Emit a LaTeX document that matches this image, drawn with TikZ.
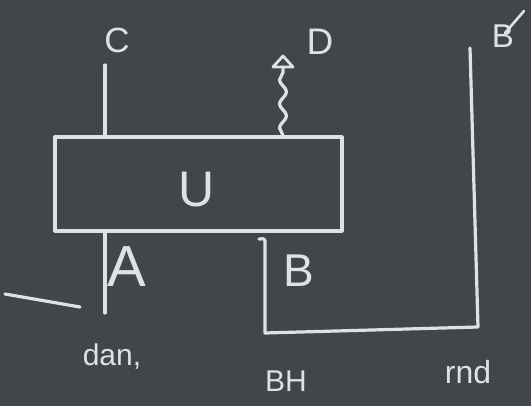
\documentclass[tikz,border=0pt]{standalone}
\usepackage{fontspec}
\setmainfont{Liberation Sans}
\usetikzlibrary{arrows.meta,decorations.pathmorphing}
\definecolor{board}{RGB}{66,69,73}
\definecolor{chalk}{RGB}{222,226,228}
\tikzset{
  chalkline/.style={draw=chalk, line width=3.2pt, line cap=round, line join=round},
  lbl/.style={text=chalk, inner sep=0pt, anchor=center},
}
\begin{document}
\begin{tikzpicture}[x=1pt,y=-1pt]
\useasboundingbox (0,0) rectangle (531,406);
\fill[board] (0,0) rectangle (531,406);

% main box
\node[chalkline, rectangle, minimum width=287pt, minimum height=94pt, inner sep=0pt] (U) at (198.5,184) {};
\node[lbl, font=\fontsize{50}{50}\selectfont] (Ulbl) at (197,190) {U};

% C
\node[lbl, font=\fontsize{35}{35}\selectfont] (C) at (117,40) {C};
\coordinate (cTop) at (105,65);
\draw[chalkline] (cTop) -- (cTop |- U.north);

% D
\node[lbl, font=\fontsize{37}{37}\selectfont] (D) at (320,42) {D};
\coordinate (dTop) at (283,56);
\coordinate (dMid) at (283,67);
\coordinate (dL) at (273,67);
\coordinate (dR) at (293,67);
\draw[chalkline, decorate, decoration={snake, amplitude=3.5pt, segment length=24pt}] (dMid |- U.north) -- (dMid);
\draw[chalkline, line width=2.8pt] (dL) -- (dTop) -- (dR) -- cycle;

% B'
\node[lbl, font=\fontsize{33}{33}\selectfont] (Bp) at (503,36) {B};
\coordinate (bpA) at (505,33);
\coordinate (bpB) at (524,11);
\draw[chalkline, line width=2.6pt] (bpA) -- (bpB);

% right loop
\coordinate (rTop) at (470,48);
\coordinate (rBR) at (478,327);
\coordinate (rBL) at (265,333);
\coordinate (rUp) at (265,241);
\coordinate (rHook) at (259,239);
\draw[chalkline] (rTop) -- (rBR) -- (rBL) -- (rUp) to[out=90,in=20] (rHook);

% A, B labels
\node[lbl, font=\fontsize{58}{58}\selectfont] (A) at (127,267) {A};
\node[lbl, font=\fontsize{46}{46}\selectfont] (B) at (299,271) {B};

% A line
\coordinate (aBot) at (105,313);
\draw[chalkline] (aBot |- U.south) -- (aBot);

% left line
\coordinate (lL) at (5,294);
\coordinate (lR) at (80,307);
\draw[chalkline] (lL) -- (lR);

% bottom labels
\node[lbl, font=\fontsize{30}{30}\selectfont] (dan) at (112,357) {dan,};
\node[lbl, font=\fontsize{30}{30}\selectfont] (BH) at (286,381) {BH};
\node[lbl, font=\fontsize{32}{32}\selectfont] (rnd) at (468,372) {rnd};
\end{tikzpicture}
\end{document}
